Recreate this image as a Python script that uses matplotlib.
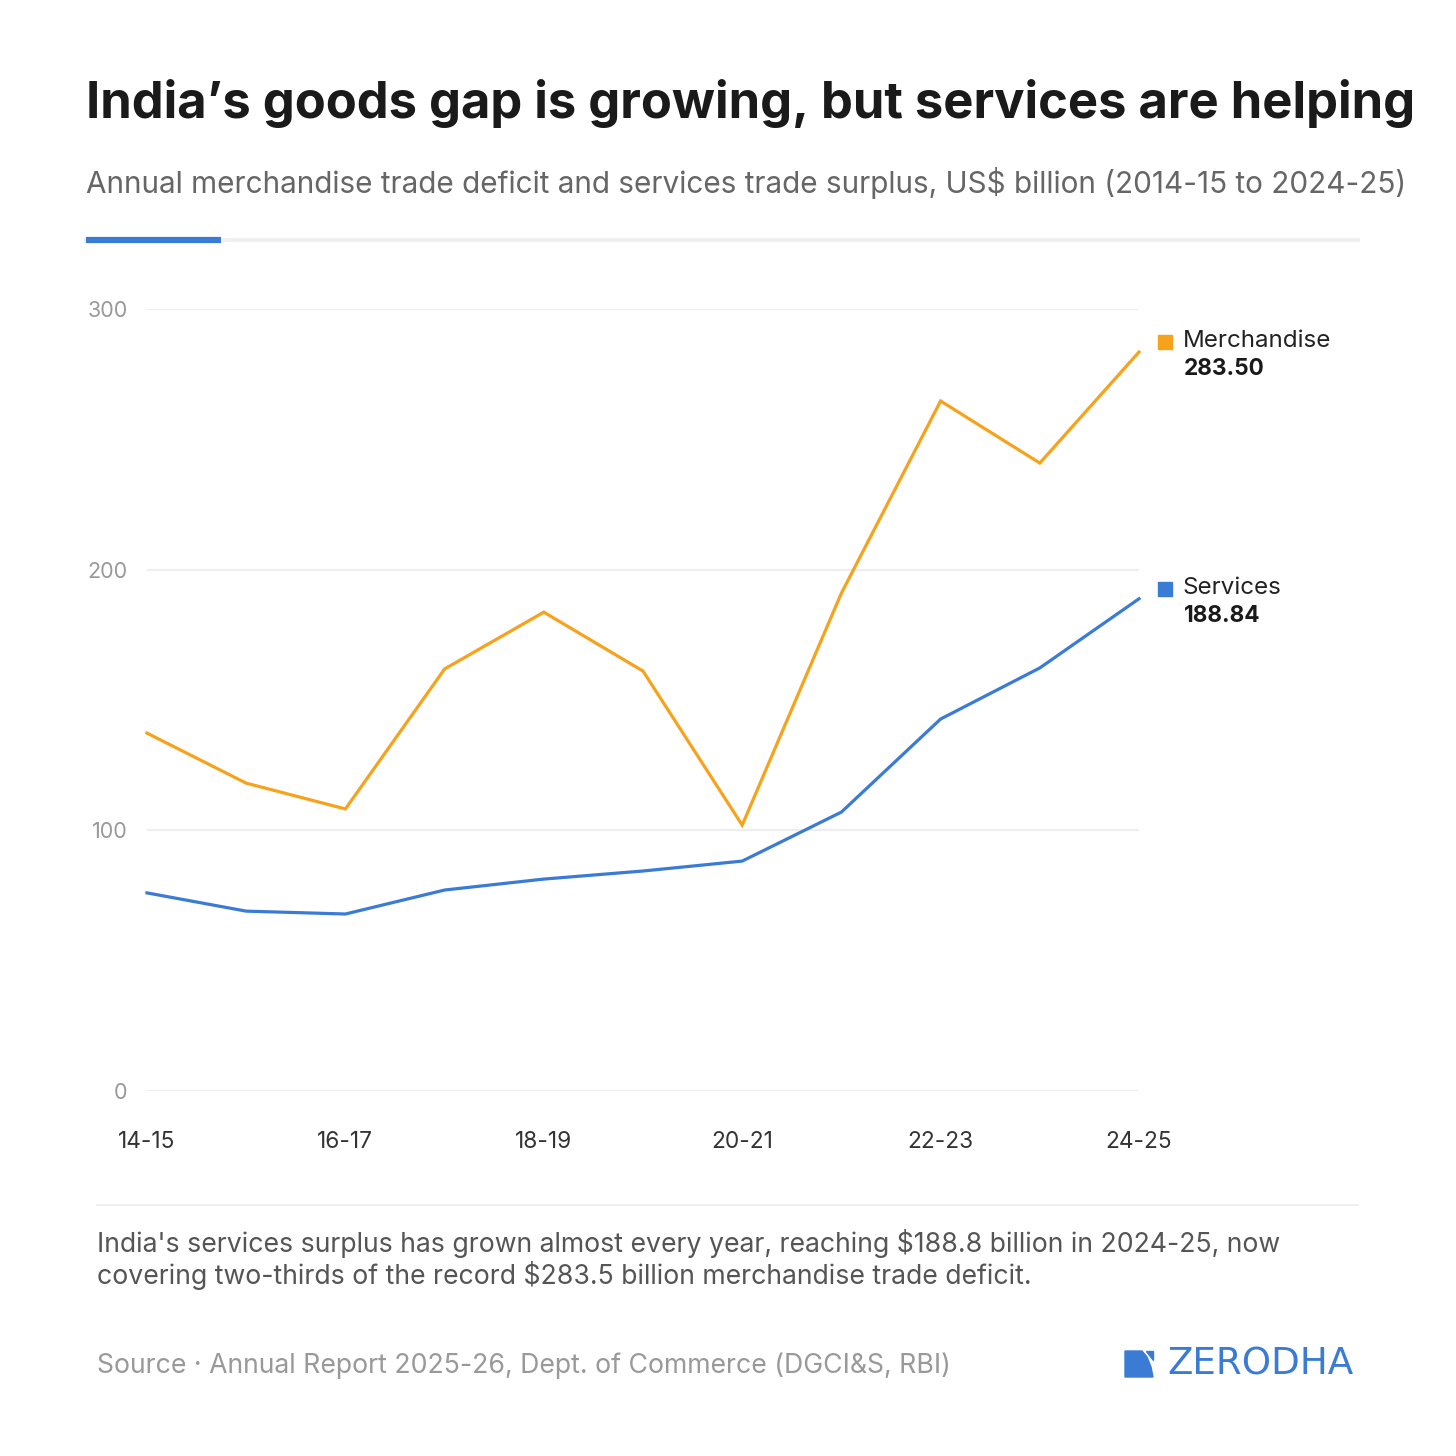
import numpy as np
import matplotlib.pyplot as plt
from matplotlib.patches import Rectangle, Polygon

plt.rcParams['font.family'] = ['Inter', 'DejaVu Sans']

years = ['14-15', '15-16', '16-17', '17-18', '18-19', '19-20',
         '20-21', '21-22', '22-23', '23-24', '24-25']
merchandise = [137.3, 118.1, 108.2, 161.9, 183.7, 161.1,
               102.0, 191.0, 264.7, 240.9, 283.50]
services = [76.0, 69.0, 67.9, 77.1, 81.3, 84.4,
            88.2, 107.0, 142.7, 162.3, 188.84]
yticks = [0, 100, 200, 300]

orange = '#f7a21b'
blue = '#3a7bd5'
W = H = 1456

fig = plt.figure(figsize=(14.56, 14.56), dpi=100)
fig.patch.set_facecolor('white')

def fx(px):
    return px / W

def fy(py):
    return 1 - py / H

ax = fig.add_axes([fx(147), fy(1091), fx(1139 - 147), (1091 - 309) / H])
x = np.arange(len(years))
ax.plot(x, merchandise, color=orange, lw=2.3, solid_joinstyle='miter', clip_on=False, zorder=3)
ax.plot(x, services, color=blue, lw=2.3, solid_joinstyle='miter', clip_on=False, zorder=3)
ax.set_xlim(0, len(years) - 1)
ax.set_ylim(0, 300)
ax.set_yticks(yticks)
ax.set_yticklabels([str(v) for v in yticks])
ax.set_xticks(x[::2])
ax.set_xticklabels(years[::2])
for s in ax.spines.values():
    s.set_visible(False)
ax.grid(axis='y', color='#eeeeee', lw=1.5, zorder=0)
ax.tick_params(axis='y', length=0, pad=14, labelsize=15.5, labelcolor='#999999')
ax.tick_params(axis='x', length=0, pad=29, labelsize=16.3, labelcolor='#333333')

# end labels
for series, name, col in [(merchandise, 'Merchandise', orange), (services, 'Services', blue)]:
    v = series[-1]
    tr = ax.transData.transform((x[-1], v))
    py = H - tr[1]
    fig.patches.append(Rectangle((fx(1158), fy(py - 3)), 14 / W, 14 / H,
                                 transform=fig.transFigure, color=col))
    fig.text(fx(1183), fy(py - 11), name, fontsize=17.4, color='#222222', va='center')
    fig.text(fx(1184), fy(py + 17), f'{v:.2f}', fontsize=16.3, fontweight='bold',
             color='#1a1a1a', va='center')

# header
fig.text(fx(86), fy(103), 'India\u2019s goods gap is growing, but services are helping',
         fontsize=36.5, fontweight='bold', color='#1a1a1a', va='center')
fig.text(fx(86), fy(183), 'Annual merchandise trade deficit and services trade surplus, US$ billion (2014-15 to 2024-25)',
         fontsize=21.4, color='#666666', va='center')
fig.add_artist(plt.Line2D([fx(86), fx(1358)], [fy(240), fy(240)], color='#f0f0f0', lw=3))
fig.add_artist(plt.Line2D([fx(86), fx(221)], [fy(240), fy(240)], color=blue, lw=4.5, solid_capstyle='butt'))

# footer
fig.add_artist(plt.Line2D([fx(97), fx(1358)], [fy(1205), fy(1205)], color='#eeeeee', lw=1.2))
fig.text(fx(97), fy(1244), "India's services surplus has grown almost every year, reaching $188.8 billion in 2024-25, now",
         fontsize=19.2, color='#555555', va='center')
fig.text(fx(97), fy(1276), 'covering two-thirds of the record $283.5 billion merchandise trade deficit.',
         fontsize=19.2, color='#555555', va='center')
fig.text(fx(97), fy(1366), 'Source \u00b7 Annual Report 2025-26, Dept. of Commerce (DGCI&S, RBI)',
         fontsize=19.2, color='#999999', va='center')

# logo
fig.patches.append(Polygon([(fx(1125), fy(1351)), (fx(1142), fy(1351)),
                            (fx(1147), fy(1357)), (fx(1151), fy(1367)),
                            (fx(1153), fy(1377)), (fx(1125), fy(1377))],
                           closed=True, transform=fig.transFigure, color=blue))
fig.patches.append(Polygon([(fx(1146), fy(1351)), (fx(1153), fy(1351)), (fx(1153), fy(1360))],
                           closed=True, transform=fig.transFigure, color=blue))
fig.text(fx(1167), fy(1364), 'ZERODHA', fontsize=26.8, color=blue, va='center',
         family=['DejaVu Sans'])

fig.savefig('out.png', dpi=100, facecolor='white')
